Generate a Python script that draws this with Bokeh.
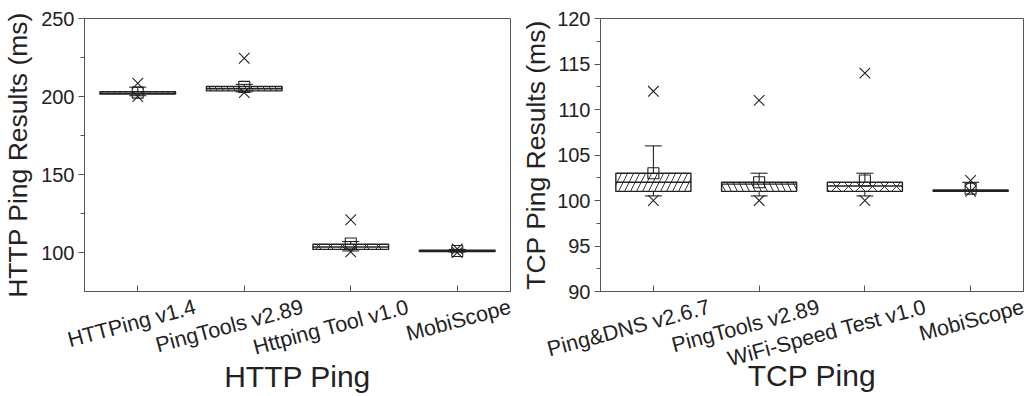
import math
from bokeh.plotting import figure
from bokeh.layouts import row
from bokeh.models import FixedTicker, ColumnDataSource, Range1d, LinearAxis
from bokeh.embed import file_html
from bokeh.resources import INLINE

# ---------------- data ----------------
http_cats = ["HTTPing v1.4", "PingTools v2.89", "Httping Tool v1.0", "MobiScope"]
http_q1 = [201.5, 203.6, 102.0, 100.6]
http_q3 = [203.0, 206.4, 105.3, 101.4]
http_median = [202.0, 205.0, 103.5, 101.0]
http_mean = [202.5, 206.2, 105.8, 101.0]
http_whisker_lo = [200.5, 203.0, 101.0, 100.3]
http_whisker_hi = [206.0, 207.8, 107.0, 102.0]
http_max = [208.5, 224.5, 121.0, 102.3]
http_min = [200.0, 202.5, 100.4, 100.0]

tcp_cats = ["Ping&DNS v2.6.7", "PingTools v2.89", "WiFi-Speed Test v1.0", "MobiScope"]
tcp_q1 = [101.0, 101.0, 101.0, 101.0]
tcp_q3 = [103.0, 102.0, 102.0, 101.15]
tcp_median = [102.0, 101.8, 101.6, 101.05]
tcp_mean = [103.0, 102.0, 102.2, 101.3]
tcp_whisker_lo = [100.5, 100.5, 100.5, 101.0]
tcp_whisker_hi = [106.0, 103.0, 103.0, 102.0]
tcp_max = [112.0, 111.0, 114.0, 102.2]
tcp_min = [100.0, 100.0, 100.0, 101.0]

hatches = ["/", "\\", "x", "|"]

FONT = "Liberation Sans"
AX = "#555555"
TXT = "#222222"


def make_panel(cats, q1, q3, med, mean, wlo, whi, vmax, vmin,
               yr, yticks, yminor, ylabel, xlabel, width, bl, br,
               shift_units, ylab_standoff, title_standoff):
    p = figure(width=width, height=396, output_backend="svg",
               toolbar_location=None, x_range=Range1d(0.5, 4.5),
               y_range=Range1d(*yr), min_border_left=bl, min_border_right=br,
               min_border_top=18, min_border_bottom=104,
               x_axis_location=None)
    p.grid.visible = False
    p.outline_line_color = AX
    p.outline_line_width = 1
    p.background_fill_color = "white"

    xs = list(range(1, len(cats) + 1))
    bw = 0.71
    src = ColumnDataSource(dict(
        x=xs, q1=q1, q3=q3, med=med, mean=mean, wlo=wlo, whi=whi,
        vmax=vmax, vmin=vmin, hatch=hatches,
        bx0=[x - bw / 2 for x in xs], bx1=[x + bw / 2 for x in xs],
        cx0=[x - 0.08 for x in xs], cx1=[x + 0.08 for x in xs]))

    # whiskers
    for a, b in (("q3", "whi"), ("q1", "wlo")):
        p.segment(x0="x", y0=a, x1="x", y1=b, source=src, line_color="#111111", line_width=1)
        p.segment(x0="cx0", y0=b, x1="cx1", y1=b, source=src, line_color="#111111", line_width=1)
    # boxes
    p.quad(left="bx0", right="bx1", bottom="q1", top="q3", source=src,
           fill_color="white", line_color=TXT, line_width=1.4,
           hatch_pattern="hatch", hatch_color=TXT, hatch_scale=12,
           hatch_weight=0.9)
    # median
    p.segment(x0="bx0", y0="med", x1="bx1", y1="med", source=src,
              line_color=TXT, line_width=1.4)
    # mean
    p.scatter(x="x", y="mean", source=src, marker="square", size=11,
              fill_color="white", fill_alpha=0.0, line_color=TXT, line_width=1.1)
    # extremes
    p.scatter(x="x", y="vmax", source=src, marker="x", size=15,
              line_color=TXT, line_width=1.1)
    p.scatter(x="x", y="vmin", source=src, marker="x", size=15,
              line_color=TXT, line_width=1.1)

    # y axis
    p.yaxis.ticker = FixedTicker(ticks=yticks, minor_ticks=yminor)
    p.yaxis.axis_label = ylabel
    p.yaxis.axis_label_text_font = FONT
    p.yaxis.axis_label_text_font_style = "normal"
    p.yaxis.axis_label_text_font_size = "26.5px"
    p.yaxis.axis_label_text_color = TXT
    p.yaxis.axis_label_standoff = ylab_standoff
    p.yaxis.major_label_text_font = FONT
    p.yaxis.major_label_text_font_size = "20px"
    p.yaxis.major_label_text_color = TXT
    p.yaxis.major_label_standoff = 4
    p.yaxis.major_tick_out = 6
    p.yaxis.major_tick_in = 0
    p.yaxis.minor_tick_out = 4
    p.yaxis.minor_tick_in = 0
    p.yaxis.axis_line_color = AX
    p.yaxis.major_tick_line_color = AX
    p.yaxis.minor_tick_line_color = AX

    # x axis: line + inward ticks at categories (no labels)
    ax_ticks = LinearAxis(ticker=FixedTicker(ticks=xs, minor_ticks=[]),
                          major_label_overrides={x: "" for x in xs},
                          major_tick_in=6, major_tick_out=0,
                          major_label_standoff=0,
                          axis_line_color=AX, major_tick_line_color=AX,
                          major_label_text_font_size="1px")
    p.add_layout(ax_ticks, "below")

    # x axis: rotated category labels (right end shifted right of tick) + title
    lab_pos = [x + s for x, s in zip(xs, shift_units)]
    ax_labels = LinearAxis(ticker=FixedTicker(ticks=lab_pos, minor_ticks=[]),
                           major_label_overrides={lp: c for lp, c in zip(lab_pos, cats)},
                           major_label_orientation=math.radians(15),
                           major_tick_in=0, major_tick_out=0,
                           major_label_standoff=15,
                           axis_line_color=None, major_tick_line_color=None,
                           major_label_text_font=FONT,
                           major_label_text_font_size="21.5px",
                           major_label_text_color=TXT,
                           axis_label=xlabel, axis_label_text_font=FONT,
                           axis_label_text_font_style="normal",
                           axis_label_text_font_size="30px",
                           axis_label_text_color=TXT,
                           axis_label_standoff=title_standoff)
    p.add_layout(ax_labels, "below")
    return p


p1 = make_panel(http_cats, http_q1, http_q3, http_median, http_mean,
                http_whisker_lo, http_whisker_hi, http_max, http_min,
                (75, 250), [100, 150, 200, 250], [125, 175, 225],
                "HTTP Ping Results (ms)", "HTTP Ping", 518, 83, 8,
                [0.54, 0.55, 0.54, 0.5], 5, -14)
p2 = make_panel(tcp_cats, tcp_q1, tcp_q3, tcp_median, tcp_mean,
                tcp_whisker_lo, tcp_whisker_hi, tcp_max, tcp_min,
                (90, 120), [90, 95, 100, 105, 110, 115, 120],
                [92.5, 97.5, 102.5, 107.5, 112.5, 117.5],
                "TCP Ping Results (ms)", "TCP Ping", 510, 80, 5,
                [0.53, 0.565, 0.575, 0.5], 3, -27)

layout = row(p1, p2)
open("out.html", "w").write(file_html(layout, INLINE))
